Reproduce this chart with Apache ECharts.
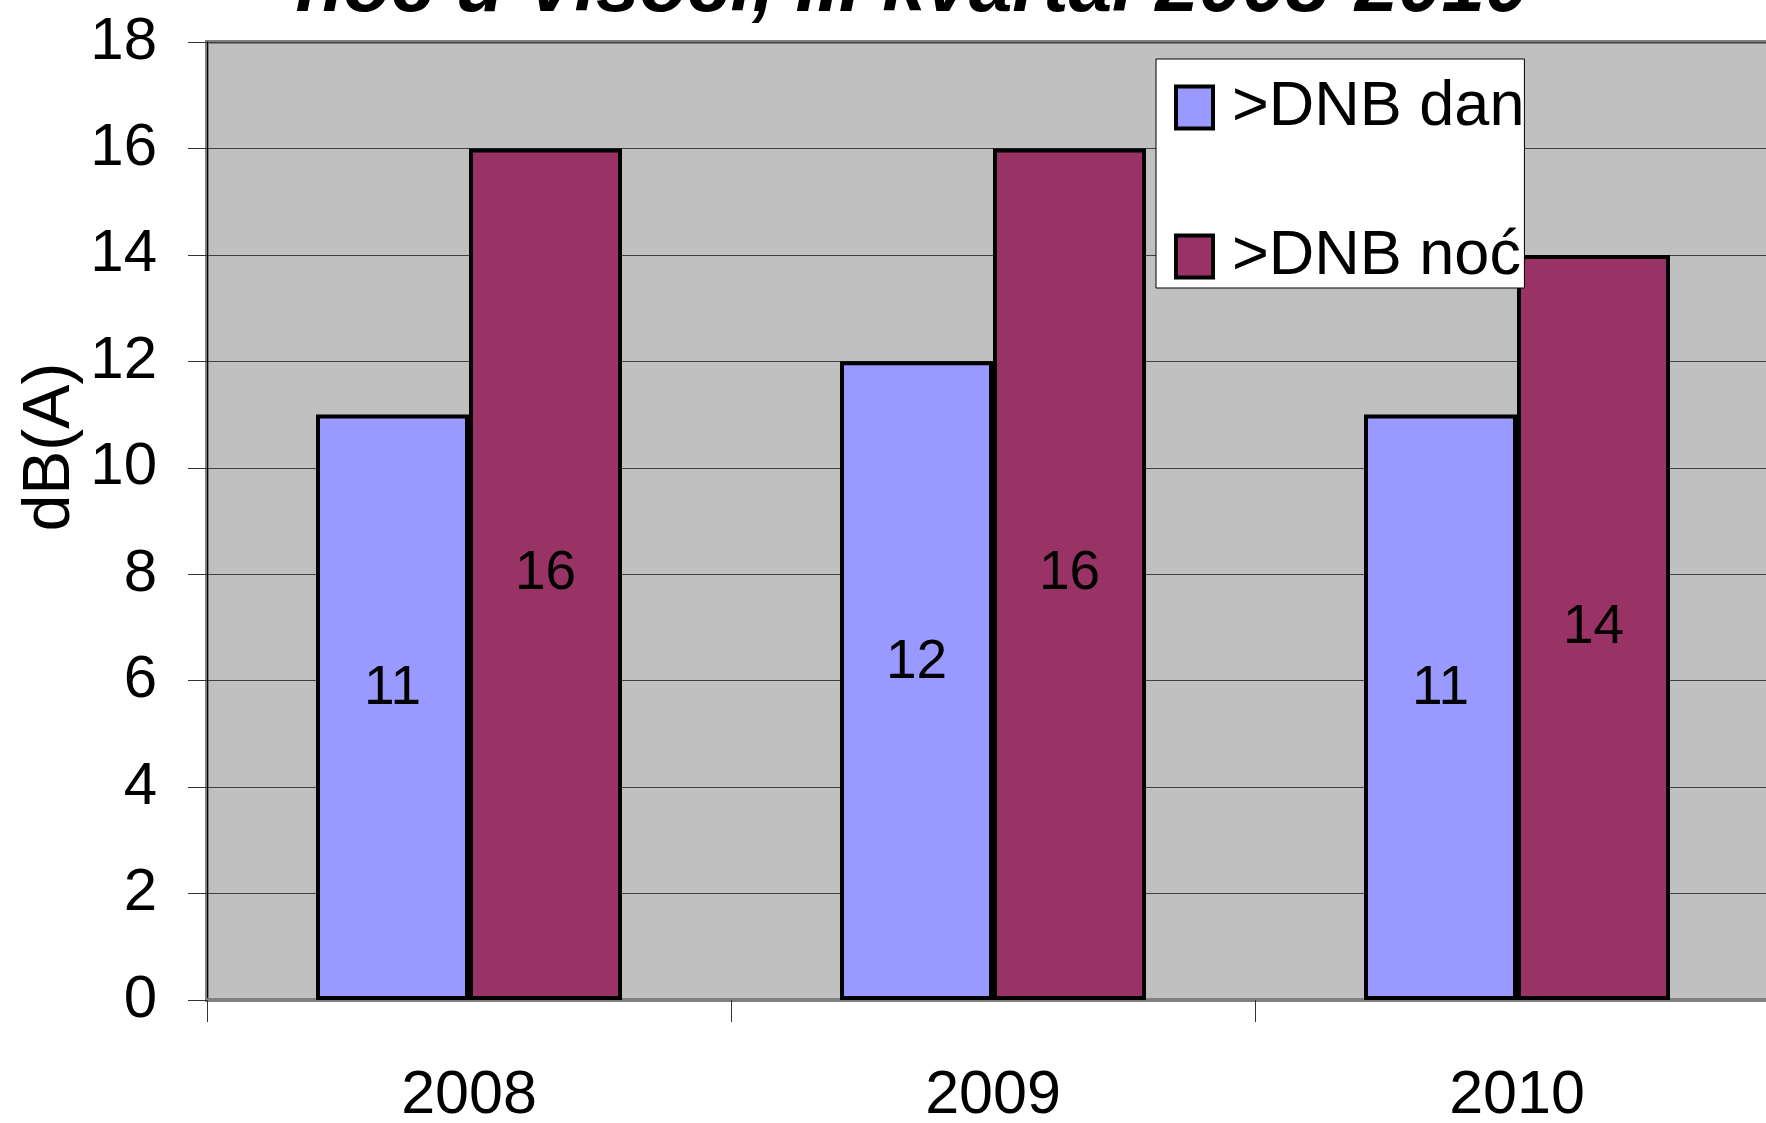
<!DOCTYPE html>
<html>
<head>
<meta charset="utf-8">
<script src="https://cdn.jsdelivr.net/npm/echarts@6/dist/echarts.min.js"></script>
<style>
  html, body { margin: 0; padding: 0; background: #fff; }
  #main { width: 1766px; height: 1123px; }
</style>
</head>
<body>
<div id="main"></div>
<script>
var years = ['2008', '2009', '2010'];
var danValues = [11, 12, 11];
var nocValues = [16, 16, 14];
var seriesNames = ['>DNB dan', '>DNB noć'];

var font = 'Liberation Sans, Arial, sans-serif';
var myChart = echarts.init(document.getElementById('main'));

// bars share a black outline, like the spreadsheet original
function barSeries(name, data, color, labelShift) {
  return {
    name: name,
    type: 'bar',
    data: data,
    barWidth: 153,
    barGap: '0%',
    itemStyle: { color: color, borderColor: '#000', borderWidth: 4 },
    label: {
      show: true,
      position: 'inside',
      offset: [0, labelShift],
      color: '#000',
      fontSize: 55,
      fontFamily: font
    }
  };
}

myChart.setOption({
  backgroundColor: '#fff',
  animation: false,
  grid: {
    left: 207, top: 42, width: 1572, height: 958,
    outerBoundsMode: 'none',
    show: true,
    backgroundColor: '#C0C0C0',
    borderColor: '#808080',
    borderWidth: 4
  },
  graphic: [
    {
      type: 'text',
      x: 912, y: 28,
      style: {
        text: 'noć u Visoči, III kvartal 2008-2010',
        font: 'italic bold 78px ' + font,
        fill: '#000',
        align: 'center',
        verticalAlign: 'bottom'
      }
    },
    {
      type: 'text',
      x: 51, y: 447,
      rotation: Math.PI / 2,
      style: {
        text: 'dB(A)',
        font: '66px ' + font,
        fill: '#000',
        align: 'center',
        verticalAlign: 'middle'
      }
    }
  ],
  legend: {
    orient: 'vertical',
    left: 1156, top: 59,
    backgroundColor: '#fff',
    borderColor: '#000',
    borderWidth: 1,
    padding: [17, 0, 0, 18],
    icon: 'rect',
    itemWidth: 37,
    itemHeight: 42,
    itemGap: 86,
    itemStyle: { borderColor: '#000', borderWidth: 4 },
    data: seriesNames,
    textStyle: { fontSize: 63, fontFamily: font, color: '#000', padding: [0, 0, 0, 14] }
  },
  xAxis: {
    type: 'category',
    data: years,
    axisLine: { show: true, lineStyle: { color: '#808080', width: 4 } },
    axisTick: { show: true, length: 22, lineStyle: { color: '#333', width: 1 } },
    axisLabel: { fontSize: 61, fontFamily: font, color: '#000', margin: 66 }
  },
  yAxis: {
    type: 'value',
    min: 0, max: 18, interval: 2,
    axisLine: { show: true, lineStyle: { color: '#000', width: 1 } },
    axisTick: { show: true, length: 19, lineStyle: { color: '#333', width: 1 } },
    axisLabel: { fontSize: 60, fontFamily: font, color: '#000', margin: 50 },
    splitLine: { show: true, lineStyle: { color: '#404040', width: 1 } }
  },
  series: [
    barSeries(seriesNames[0], danValues, '#9999FF', -18),
    barSeries(seriesNames[1], nocValues, '#993366', 0)
  ]
});
</script>
</body>
</html>
